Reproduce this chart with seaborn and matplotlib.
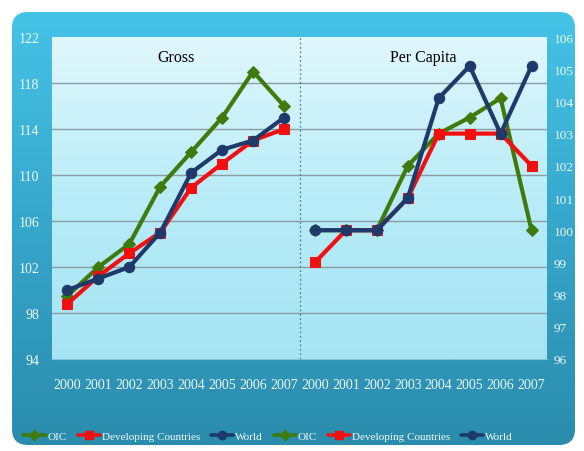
import numpy as np
import matplotlib
matplotlib.use("Agg")
import matplotlib.pyplot as plt
from matplotlib.patches import FancyBboxPatch
from matplotlib.lines import Line2D
from matplotlib.colors import LinearSegmentedColormap
import seaborn as sns

years = ["2000", "2001", "2002", "2003", "2004", "2005", "2006", "2007"]
gross_oic = [99.5, 102.0, 104.0, 109.0, 112.0, 115.0, 119.0, 116.0]
gross_dev = [98.8, 101.2, 103.2, 105.0, 108.9, 111.0, 113.0, 114.0]
gross_world = [100.0, 101.0, 102.0, 105.0, 110.2, 112.2, 113.0, 115.0]
pc_oic = [100.0, 100.0, 100.0, 102.0, 103.0, 103.5, 104.1, 100.0]
pc_dev = [99.0, 100.0, 100.0, 101.0, 103.0, 103.0, 103.0, 102.0]
pc_world = [100.0, 100.0, 100.0, 101.0, 104.1, 105.1, 103.0, 105.1]
left_ticks = [94, 98, 102, 106, 110, 114, 118, 122]
right_ticks = [96, 97, 98, 99, 100, 101, 102, 103, 104, 105, 106]
series_names = ["OIC", "Developing Countries", "World"]

sns.set_style("white")
plt.rcParams['font.family'] = ['Liberation Serif', 'DejaVu Serif']

c_oic = "#3f7a0c"
c_dev = "#f01010"
c_world = "#1d3a6a"
styles = [(c_oic, "D", 6.5), (c_dev, "s", 7.5), (c_world, "o", 7.5)]

fig = plt.figure(figsize=(5.84, 4.52), dpi=100)
fig.patch.set_facecolor("white")

# outer frame with gradient
bg = fig.add_axes([0, 0, 1, 1], zorder=-10)
bg.axis("off")
frame = FancyBboxPatch((12, 13), 563, 433, boxstyle="round,pad=0,rounding_size=16",
                       transform=bg.transData, facecolor="none", edgecolor="none")
bg.add_patch(frame)
grad = np.linspace(0, 1, 256).reshape(-1, 1)
cm_frame = LinearSegmentedColormap.from_list("f", ["#45c3e7", "#36a6cb", "#2a8cac"])
im = bg.imshow(grad, cmap=cm_frame, extent=[12, 575, 446, 13], aspect="auto")
im.set_clip_path(frame)
bg.set_xlim(0, 584); bg.set_ylim(452, 0)

ax = fig.add_axes([52 / 584, 1 - 360 / 452, 495 / 584, 322 / 452])
ax.set_facecolor("none")
cm_plot = LinearSegmentedColormap.from_list("p", ["#e0f7fc", "#b8ecf8", "#a6e4f4"])
ax.imshow(grad, cmap=cm_plot, extent=[-0.5, 15.5, 94, 122], aspect="auto", zorder=0)

pos_g = np.arange(8)
pos_p = np.arange(8) + 8

ax.set_xlim(-0.5, 15.5)
ax.set_ylim(94, 122)
ax.set_yticks(left_ticks)
for t in left_ticks[1:-1]:
    ax.axhline(t, color="#8a9ba4", lw=1.0, zorder=1)
ax.axvline(7.5, color="#4a7f9a", lw=0.9, ls=(0, (1.5, 2)), zorder=1)

for vals, (c, m, ms) in zip([gross_oic, gross_dev, gross_world], styles):
    sns.lineplot(x=pos_g, y=vals, ax=ax, color=c, marker=m, markersize=ms, linewidth=3.0,
                 markeredgecolor=c, zorder=3)

ax2 = ax.twinx()
ax2.set_ylim(96, 106)
ax2.set_yticks(right_ticks)
for vals, (c, m, ms) in zip([pc_oic, pc_dev, pc_world], styles):
    sns.lineplot(x=pos_p, y=vals, ax=ax2, color=c, marker=m, markersize=ms, linewidth=3.0,
                 markeredgecolor=c, zorder=3)
ax2.set_xlim(-0.5, 15.5)

ax.set_xticks(np.arange(16))
ax.set_xticklabels(years + years)
ax.set_xticks(np.arange(-0.5, 16, 1), minor=True)
ax.tick_params(axis="x", which="major", length=0, pad=14, labelsize=10, colors="#eef8fc")
ax.tick_params(axis="x", which="minor", length=5, color="#7fc3d9", width=0.8)
ax.tick_params(axis="y", length=0, pad=9, labelsize=10, colors="#eef8fc")
ax2.tick_params(axis="y", length=0, pad=5, labelsize=9.5, colors="#eef8fc")
for a in (ax, ax2):
    for s in a.spines.values():
        s.set_visible(False)
    a.set_xlabel(""); a.set_ylabel("")
ax.spines["bottom"].set_visible(True)
ax.spines["bottom"].set_color("#7fc3d9")

ax.text(3.5, 120.3, "Gross", ha="center", va="center", fontsize=11.5, color="black", zorder=5)
ax.text(11.5, 120.3, "Per Capita", ha="center", va="center", fontsize=11.5, color="black", zorder=5)

handles = []
labels = []
for _ in range(2):
    for name, (c, m, ms) in zip(series_names, styles):
        handles.append(Line2D([], [], color=c, marker=m, markersize=ms * 0.8, lw=2.6,
                              markeredgecolor=c))
        labels.append(name)
fig.legend(handles, labels, loc="center", bbox_to_anchor=(0.459, 1 - 437 / 452), ncol=6,
           frameon=False, fontsize=8, labelcolor="#f2fafc", handlelength=2.0,
           handletextpad=0.15, columnspacing=1.0, borderaxespad=0, borderpad=0)

fig.savefig("out.png", dpi=100)
